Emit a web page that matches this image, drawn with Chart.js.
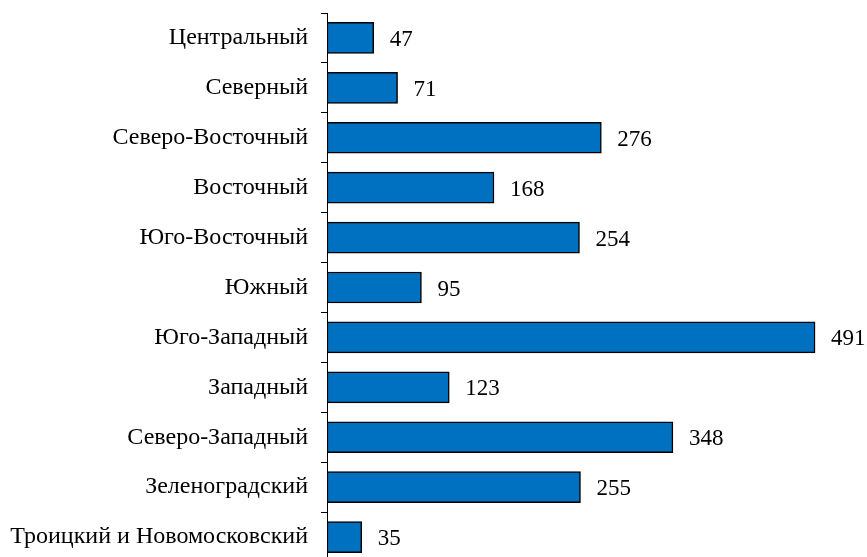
<!DOCTYPE html>
<html>
<head>
<meta charset="utf-8">
<script src="https://cdn.jsdelivr.net/npm/chart.js@4"></script>
<style>
  html, body { margin: 0; padding: 0; background: #fff; overflow: hidden; }
  #wrap { position: relative; width: 867px; height: 562px; }
</style>
</head>
<body>
<div id="wrap"><canvas id="chart" width="867" height="562"></canvas></div>
<script>
const districts = ['Центральный', 'Северный', 'Северо-Восточный', 'Восточный', 'Юго-Восточный',
  'Южный', 'Юго-Западный', 'Западный', 'Северо-Западный', 'Зеленоградский',
  'Троицкий и Новомосковский'];
const counts = [47, 71, 276, 168, 254, 95, 491, 123, 348, 255, 35];

const serif = '"Liberation Serif", "Times New Roman", serif';

// value labels to the right of each bar
const valueLabels = {
    id: 'valueLabels',
    afterDatasetsDraw(chart) {
        const ctx = chart.ctx;
        ctx.save();
        ctx.font = '23px ' + serif;
        ctx.fillStyle = '#000';
        ctx.textAlign = 'left';
        ctx.textBaseline = 'middle';
        chart.getDatasetMeta(0).data.forEach((bar, i) => {
            ctx.fillText(String(counts[i]), bar.x + 16, bar.y + 2);
        });
        ctx.restore();
    }
};

new Chart(document.getElementById('chart').getContext('2d'), {
    type: 'bar',
    data: {
        labels: districts,
        datasets: [{
            data: counts,
            backgroundColor: '#0070c0',
            borderColor: '#000',
            borderWidth: 1.5,
            borderSkipped: false,
            barThickness: 31
        }]
    },
    options: {
        indexAxis: 'y',
        responsive: false,
        animation: false,
        layout: { padding: { top: 13, right: 43, bottom: 0, left: 0 } },
        plugins: {
            legend: { display: false },
            tooltip: { enabled: false }
        },
        scales: {
            x: { display: false, min: 0, max: 500 },
            y: {
                afterFit(scale) {
                    scale.width = 327;
                    scale.paddingTop = 0;
                    scale.paddingBottom = 0;
                },
                grid: {
                    offset: true,
                    drawOnChartArea: false,
                    drawTicks: true,
                    tickLength: 6,
                    color: '#000'
                },
                border: { display: true, color: '#000', width: 1 },
                ticks: {
                    padding: 13,
                    color: '#000',
                    font: { family: serif, size: 24 }
                }
            }
        }
    },
    plugins: [valueLabels]
});
</script>
</body>
</html>
